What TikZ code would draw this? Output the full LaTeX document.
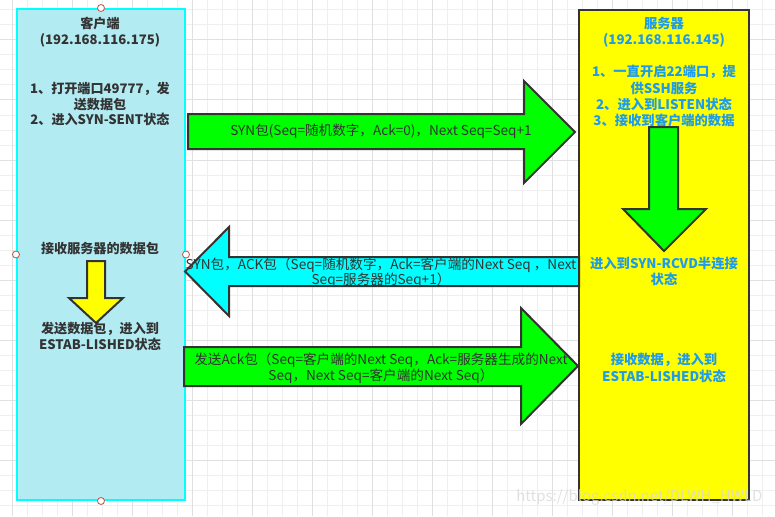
\documentclass[tikz,border=0pt]{standalone}
\usepackage{fontspec}
\setmainfont{Noto Sans CJK SC}
\usetikzlibrary{positioning}
\definecolor{tcpClient}{HTML}{B2EBF2}
\definecolor{tcpCyan}{HTML}{00FFFF}
\definecolor{tcpServer}{HTML}{FFFF00}
\definecolor{tcpGreen}{HTML}{00FF00}
\definecolor{tcpLine}{HTML}{333333}
\definecolor{tcpBlue}{HTML}{1E9BEA}
\definecolor{tcpGridMinor}{HTML}{EFEFEF}
\definecolor{tcpGridMajor}{HTML}{E0E0E0}
\definecolor{tcpHandle}{HTML}{B85450}
\tikzset{
    tcpBox/.style={
        rectangle,
        line width=2pt,
        inner sep=0pt
    },
    % Texts
    clientText/.style={font=\bfseries\fontsize{13.1}{15.5}\selectfont, text=tcpLine, align=center, inner sep=0pt},
    serverText/.style={font=\bfseries\fontsize{13.3}{16.2}\selectfont, text=tcpBlue, align=center, inner sep=0pt},
    msgText/.style={font=\fontsize{13.6}{15.5}\selectfont, text=tcpLine, align=center, inner sep=0pt},
    % Block arrows
    blockArrow/.style={draw=tcpLine, line width=2pt, line join=miter},
    handle/.style={circle, draw=tcpHandle, fill=white, line width=0.8pt, minimum size=7pt, inner sep=0pt}
}

\begin{document}
\begin{tikzpicture}[x=1pt, y=-1pt]
\useasboundingbox (0,0) rectangle (775,516);

% grid
\foreach \x in {12,27,...,770} \draw[tcpGridMinor, line width=1pt] (\x,0) -- (\x,516);
\foreach \y in {10,25,...,515} \draw[tcpGridMinor, line width=1pt] (0,\y) -- (775,\y);
\foreach \x in {12,72,...,770} \draw[tcpGridMajor, line width=1pt] (\x,0) -- (\x,516);
\foreach \y in {40,100,...,515} \draw[tcpGridMajor, line width=1pt] (0,\y) -- (775,\y);

% hosts
\node[tcpBox, fill=tcpClient, draw=tcpCyan, minimum width=168pt, minimum height=491pt] (client) at (101,254.5) {};
\node[tcpBox, fill=tcpServer, draw=tcpLine, minimum width=170pt, minimum height=490pt] (server) at (664,255) {};

\node[clientText] (cTitle) at (100,32.3) {客户端\\(192.168.116.175)};
\node[clientText] (cOpen) at (100,104.3) {1、打开端口49777，发\\送数据包\\2、进入SYN-SENT状态};
\node[clientText] (cRecv) at (100,248.3) {接收服务器的数据包};
\node[clientText] (cEstab) at (100,336.7) {发送数据包，进入到\\ESTAB-LISHED状态};

\node[serverText] (sTitle) at (664,32.3) {服务器\\(192.168.116.145)};
\node[serverText] (sListen) at (664,96.2) {1、一直开启22端口，提\\供SSH服务\\2、进入到LISTEN状态\\3、接收到客户端的数据};
\node[serverText] (sRcvd) at (664,271.7) {进入到SYN-RCVD半连接\\状态};
\node[serverText] (sEstab) at (664,368) {接收数据，进入到\\ESTAB-LISHED状态};

% state changes
\draw[blockArrow, fill=tcpServer] (87,261) -- (105,261) -- (105,298) -- (123,298) -- (96,323) -- (69,298) -- (87,298) -- cycle;
\draw[blockArrow, fill=tcpGreen] (649,127) -- (678,127) -- (678,209) -- (706,209) -- (664,251) -- (623,209) -- (649,209) -- cycle;

% packets
\draw[blockArrow, fill=tcpGreen] (188,114) -- (524,114) -- (524,81) -- (575,132) -- (524,183) -- (524,149) -- (188,149) -- cycle;
\node[msgText] (syn) at (381,131.7) {SYN包(Seq=随机数字，Ack=0)，Next Seq=Seq+1};

\draw[blockArrow, fill=tcpCyan] (579,257) -- (229,257) -- (229,227) -- (185,271.5) -- (229,316) -- (229,286) -- (579,286) -- cycle;
\node[msgText] (synack) at (381,272.5) {SYN包，ACK包（Seq=随机数字，Ack=客户端的Next Seq ，Next\\Seq=服务器的Seq+1）};

\draw[blockArrow, fill=tcpGreen] (184,347) -- (521,347) -- (521,308) -- (578,366) -- (521,424) -- (521,386) -- (184,386) -- cycle;
\node[msgText] (ack) at (381,368) {发送Ack包（Seq=客户端的Next Seq，Ack=服务器生成的Next\\Seq，Next Seq=客户端的Next Seq）};

% selection handles
\node[handle] (hN) at (client.north) {};
\node[handle] (hW) at (client.west) {};
\node[handle] (hE) at (client.east) {};
\node[handle] (hS) at (client.south) {};

\node[font=\fontsize{15}{15}\selectfont, text=gray!30, opacity=0.8, anchor=east] (mark) at (766,497) {https://blog.csdn.net/DLWH\_HWLD};
\end{tikzpicture}
\end{document}
